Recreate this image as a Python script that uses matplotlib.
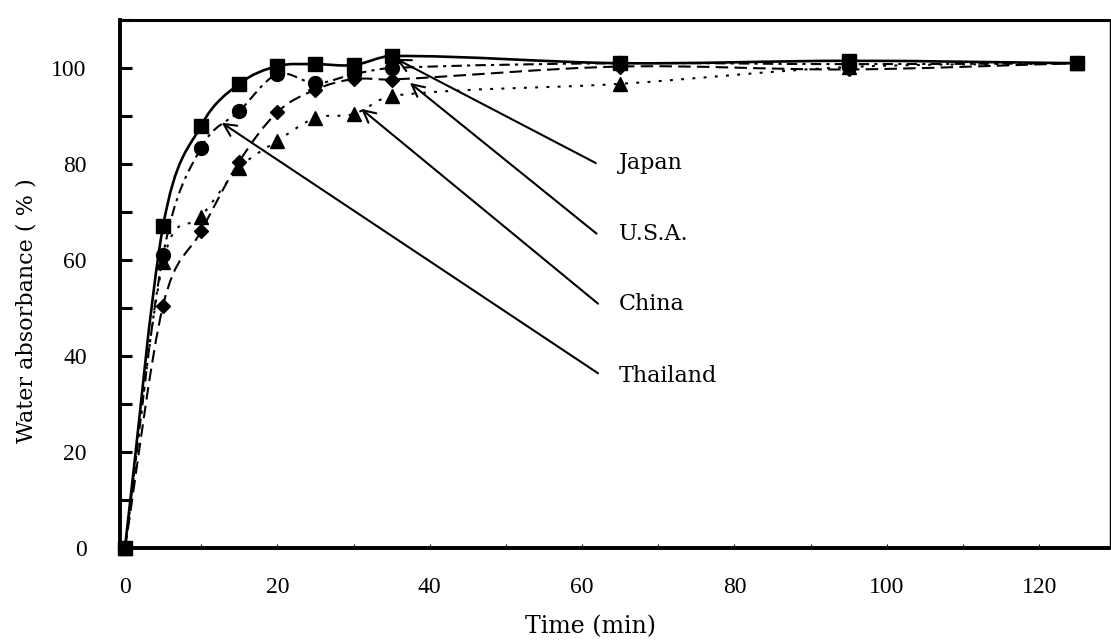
import numpy as np
import matplotlib
matplotlib.use("Agg")
import matplotlib.pyplot as plt
from matplotlib.path import Path
from matplotlib.patches import PathPatch
from matplotlib.ticker import MultipleLocator

# ---- data ----
time = [0, 5, 10, 15, 20, 25, 30, 35, 65, 95, 125]
japan = [0, 67.0, 88.0, 96.7, 100.4, 100.8, 100.6, 102.5, 101.0, 101.5, 101.0]
usa = [0, 61.0, 83.4, 91.0, 98.7, 96.8, 98.7, 100.0, 101.0, 100.8, 101.0]
china = [0, 50.5, 66.0, 80.5, 90.8, 95.5, 97.7, 97.6, 100.3, 99.7, 101.0]
thailand = [0, 59.5, 69.0, 79.2, 84.8, 89.6, 90.4, 94.2, 96.7, 100.2, 101.0]

labels = ["Japan", "U.S.A.", "China", "Thailand"]
label_xy = [(64.8, 80.2), (64.8, 65.5), (64.8, 50.9), (64.8, 35.8)]
arrow_start = [(61.8, 80.2), (61.9, 65.5), (62.1, 50.9), (62.1, 36.4)]
arrow_tip = [(35.6, 101.9), (37.4, 96.9), (31.0, 91.5), (12.7, 88.6)]

xticks = [0, 20, 40, 60, 80, 100, 120]
yticks = [0, 20, 40, 60, 80, 100]


def smooth_path(x, y):
    x = np.asarray(x, float)
    y = np.asarray(y, float)
    n = len(x)
    m = np.zeros(n)
    for i in range(n):
        if i == 0:
            m[i] = (y[1] - y[0]) / (x[1] - x[0])
        elif i == n - 1:
            m[i] = (y[-1] - y[-2]) / (x[-1] - x[-2])
        else:
            m[i] = (y[i + 1] - y[i - 1]) / (x[i + 1] - x[i - 1])
    verts = [(x[0], y[0])]
    codes = [Path.MOVETO]
    for i in range(n - 1):
        h = x[i + 1] - x[i]
        verts += [(x[i] + h / 3, y[i] + m[i] * h / 3),
                  (x[i + 1] - h / 3, y[i + 1] - m[i + 1] * h / 3),
                  (x[i + 1], y[i + 1])]
        codes += [Path.CURVE4] * 3
    return Path(verts, codes)


fig = plt.figure(figsize=(11.11, 6.41), dpi=100)
ax = fig.add_axes([120 / 1111, 1 - 548 / 641, 990 / 1111, 528 / 641])
ax.set_xlim(-0.65, 129.3)
ax.set_ylim(0, 110)

series = [
    (japan, "-", "s", 10, 1.9),
    (usa, (0, (5, 2.5, 1.5, 2.5)), "o", 10, 1.5),
    (china, (0, (6, 3)), "D", 7.5, 1.5),
    (thailand, (0, (1.4, 4)), "^", 10, 1.5),
]

for vals, ls, mk, ms, lw in series:
    patch = PathPatch(smooth_path(time, vals), facecolor="none", edgecolor="black",
                      lw=lw, linestyle=ls, zorder=2)
    ax.add_patch(patch)

for vals, ls, mk, ms, lw in reversed(series):
    ax.plot(time, vals, linestyle="none", marker=mk, markersize=ms,
            color="black", zorder=3, clip_on=False)

for lab, txy, s, t in zip(labels, label_xy, arrow_start, arrow_tip):
    ax.annotate("", xy=t, xytext=s,
                arrowprops=dict(arrowstyle="->", lw=1.5, color="black",
                                mutation_scale=22, shrinkA=0, shrinkB=0))
    ax.text(txy[0], txy[1], lab, ha="left", va="center",
            fontsize=16, family="DejaVu Serif")

# axes styling
for side in ["left", "bottom"]:
    ax.spines[side].set_linewidth(2.8)
ax.spines["top"].set_linewidth(2.2)
ax.spines["right"].set_linewidth(1.0)

ax.set_xticks(xticks)
ax.set_xticklabels([str(v) for v in xticks])
ax.set_yticks(yticks)
ax.set_yticklabels([str(v) for v in yticks])
ax.xaxis.set_minor_locator(MultipleLocator(10))
ax.yaxis.set_minor_locator(MultipleLocator(10))

ax.tick_params(axis="y", which="both", direction="in", length=8.5, width=2.2,
               labelsize=17, pad=24, right=False)
ax.tick_params(axis="x", which="both", direction="in", length=3, width=0.8,
               labelsize=17, pad=21, top=False)
for lbl in ax.get_xticklabels() + ax.get_yticklabels():
    lbl.set_family("Liberation Serif")

ax.set_xlabel("Time (min)", fontsize=17, family="DejaVu Serif")
ax.xaxis.set_label_coords(0.475, -0.15)
ax.xaxis.label.set_va("center")
ax.set_ylabel("Water absorbance ( % )", fontsize=16, family="DejaVu Serif")
ax.yaxis.set_label_coords(-0.094, 0.449)
ax.yaxis.label.set_va("center")

fig.savefig("out.png", dpi=100)
